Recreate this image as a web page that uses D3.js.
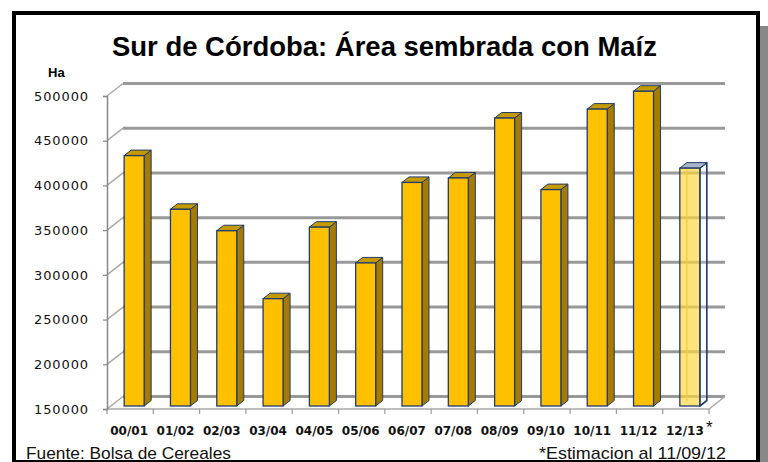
<!DOCTYPE html>
<html>
<head>
<meta charset="utf-8">
<script src="https://cdn.jsdelivr.net/npm/d3@7"></script>
<style>
  body { margin: 0; background: #fff; }
  svg { display: block; }
</style>
</head>
<body>
<div id="chart"></div>
<script>
const campaigns = ["00/01", "01/02", "02/03", "03/04", "04/05", "05/06", "06/07",
                   "07/08", "08/09", "09/10", "10/11", "11/12", "12/13"];
const hectares = [430000, 370000, 346000, 270000, 350000, 310000, 400000,
                  405000, 472000, 392000, 482000, 502000, 416000];
const estimated = [false, false, false, false, false, false, false,
                   false, false, false, false, false, true];
const yTicks = [150000, 200000, 250000, 300000, 350000, 400000, 450000, 500000];

const W = 768, H = 462;
// 3d depth offsets (back wall, and where the bars sit inside the floor)
const depth = { dx: 16, dy: -12.5 };
const barFront = { dx: 4, dy: -3 };
const barDepth = { dx: 7, dy: -5.5 };

const svg = d3.select("#chart").append("svg")
    .attr("width", W)
    .attr("height", H);

svg.append("rect").attr("width", W).attr("height", H).attr("fill", "#fff");

// shadow of the frame
svg.append("rect")
    .attr("x", 760).attr("y", 26)
    .attr("width", 8).attr("height", H - 26)
    .attr("fill", "#888");

const x = d3.scaleBand()
    .domain(campaigns)
    .range([107, 709])
    .paddingInner(0)
    .paddingOuter(0);

const y = d3.scaleLinear()
    .domain([150000, 500000])
    .range([409, 96]);

// back wall gridlines
svg.append("g")
    .selectAll("line")
    .data(yTicks)
    .enter()
    .append("line")
    .attr("x1", 107 + depth.dx)
    .attr("x2", 709 + depth.dx)
    .attr("y1", d => y(d) + depth.dy)
    .attr("y2", d => y(d) + depth.dy)
    .attr("stroke", "#999")
    .attr("stroke-width", 3);

// side wall connectors
svg.append("g")
    .selectAll("line")
    .data(yTicks)
    .enter()
    .append("line")
    .attr("x1", 107)
    .attr("x2", 107 + depth.dx)
    .attr("y1", d => y(d))
    .attr("y2", d => y(d) + depth.dy)
    .attr("stroke", "#aaa")
    .attr("stroke-width", 1.5);

// floor front edge + right edge
svg.append("path")
    .attr("d", `M107,${y(150000)}H709l${depth.dx},${depth.dy}`)
    .attr("fill", "none")
    .attr("stroke", "#aaa")
    .attr("stroke-width", 1.5);

// y axis
const yAxis = svg.append("g")
    .attr("transform", "translate(107,0)")
    .call(d3.axisLeft(y).tickValues(yTicks).tickSize(4).tickPadding(14).tickFormat(d3.format("d")));
yAxis.select(".domain").attr("stroke", "#888").attr("stroke-width", 1.5);
yAxis.selectAll(".tick line").attr("stroke", "#888").attr("stroke-width", 1.2);
yAxis.selectAll(".tick text")
    .attr("font-family", "DejaVu Sans, sans-serif")
    .attr("font-size", 13)
    .attr("letter-spacing", 0.9)
    .attr("fill", "#111");

// x ticks between categories
svg.append("g")
    .selectAll("line")
    .data(d3.range(campaigns.length + 1))
    .enter()
    .append("line")
    .attr("x1", i => 107 + i * x.bandwidth())
    .attr("x2", i => 107 + i * x.bandwidth())
    .attr("y1", y(150000))
    .attr("y2", y(150000) + 5)
    .attr("stroke", "#999")
    .attr("stroke-width", 1.2);

svg.append("g")
    .selectAll("text")
    .data(campaigns)
    .enter()
    .append("text")
    .attr("x", d => x(d) + x.bandwidth() / 2 - 1)
    .attr("y", 435)
    .attr("text-anchor", "middle")
    .attr("font-family", "DejaVu Sans, sans-serif")
    .attr("font-weight", "bold")
    .attr("font-size", 12)
    .attr("fill", "#111")
    .text(d => d);

svg.append("text")
    .attr("x", 706)
    .attr("y", 433)
    .attr("font-family", "Liberation Sans, sans-serif")
    .attr("font-size", 17)
    .attr("fill", "#111")
    .text("*");

// bars
const barW = 20;
const bars = svg.append("g")
    .selectAll("g.bar")
    .data(campaigns.map((c, i) => ({ c, v: hectares[i], est: estimated[i] })))
    .enter()
    .append("g")
    .attr("class", "bar");

const geom = d => {
    const x0 = x(d.c) + x.bandwidth() / 2 - barW / 2 + barFront.dx;
    const x1 = x0 + barW;
    const yt = y(d.v) + barFront.dy;
    const yb = y(150000) + barFront.dy;
    return { x0, x1, yt, yb };
};

// side face
bars.append("path")
    .attr("d", d => {
        const g = geom(d);
        return `M${g.x1},${g.yt}l${barDepth.dx},${barDepth.dy}V${g.yb + barDepth.dy}l${-barDepth.dx},${-barDepth.dy}Z`;
    })
    .attr("fill", d => d.est ? "rgba(255,255,255,0.2)" : "#A67C00")
    .attr("stroke", "#1F3A6E")
    .attr("stroke-width", d => d.est ? 1.6 : 1)
    .attr("stroke-linejoin", "round");

// back edge seen through the estimated bar
bars.filter(d => d.est)
    .append("line")
    .attr("x1", d => geom(d).x0 + barDepth.dx)
    .attr("x2", d => geom(d).x0 + barDepth.dx)
    .attr("y1", d => geom(d).yt + barDepth.dy)
    .attr("y2", d => geom(d).yb + barDepth.dy)
    .attr("stroke", "#E0B530")
    .attr("stroke-width", 1.2);

// top face
bars.append("path")
    .attr("d", d => {
        const g = geom(d);
        return `M${g.x0},${g.yt}l${barDepth.dx},${barDepth.dy}H${g.x1 + barDepth.dx}l${-barDepth.dx},${-barDepth.dy}Z`;
    })
    .attr("fill", d => d.est ? "#A8B4C8" : "#C49A00")
    .attr("stroke", "#1F3A6E")
    .attr("stroke-width", 1)
    .attr("stroke-linejoin", "round");

// front face
bars.append("rect")
    .attr("x", d => geom(d).x0)
    .attr("y", d => geom(d).yt)
    .attr("width", barW)
    .attr("height", d => geom(d).yb - geom(d).yt)
    .attr("fill", d => d.est ? "rgba(255,214,60,0.68)" : "#FFC000")
    .attr("stroke", "#1F3A6E")
    .attr("stroke-width", 1.3);

// frame
svg.append("rect")
    .attr("x", 14).attr("y", 13)
    .attr("width", 744).attr("height", 449)
    .attr("fill", "none")
    .attr("stroke", "#000")
    .attr("stroke-width", 4);

// titles
svg.append("text")
    .attr("x", 384.5)
    .attr("y", 56)
    .attr("text-anchor", "middle")
    .attr("font-family", "Liberation Sans, Arial, sans-serif")
    .attr("font-weight", "bold")
    .attr("font-size", 28)
    .attr("textLength", 545)
    .attr("lengthAdjust", "spacingAndGlyphs")
    .attr("fill", "#000")
    .text("Sur de Córdoba: Área sembrada con Maíz");

svg.append("text")
    .attr("x", 48)
    .attr("y", 77)
    .attr("font-family", "Liberation Sans, Arial, sans-serif")
    .attr("font-weight", "bold")
    .attr("font-size", 13)
    .attr("fill", "#000")
    .text("Ha");

svg.append("text")
    .attr("x", 26)
    .attr("y", 459)
    .attr("font-family", "Liberation Sans, Arial, sans-serif")
    .attr("font-size", 17)
    .attr("textLength", 205)
    .attr("lengthAdjust", "spacingAndGlyphs")
    .attr("fill", "#111")
    .text("Fuente: Bolsa de Cereales");

svg.append("text")
    .attr("x", 539)
    .attr("y", 459)
    .attr("font-family", "Liberation Sans, Arial, sans-serif")
    .attr("font-size", 17)
    .attr("textLength", 187)
    .attr("lengthAdjust", "spacingAndGlyphs")
    .attr("fill", "#111")
    .text("*Estimacion al 11/09/12");
</script>
</body>
</html>
